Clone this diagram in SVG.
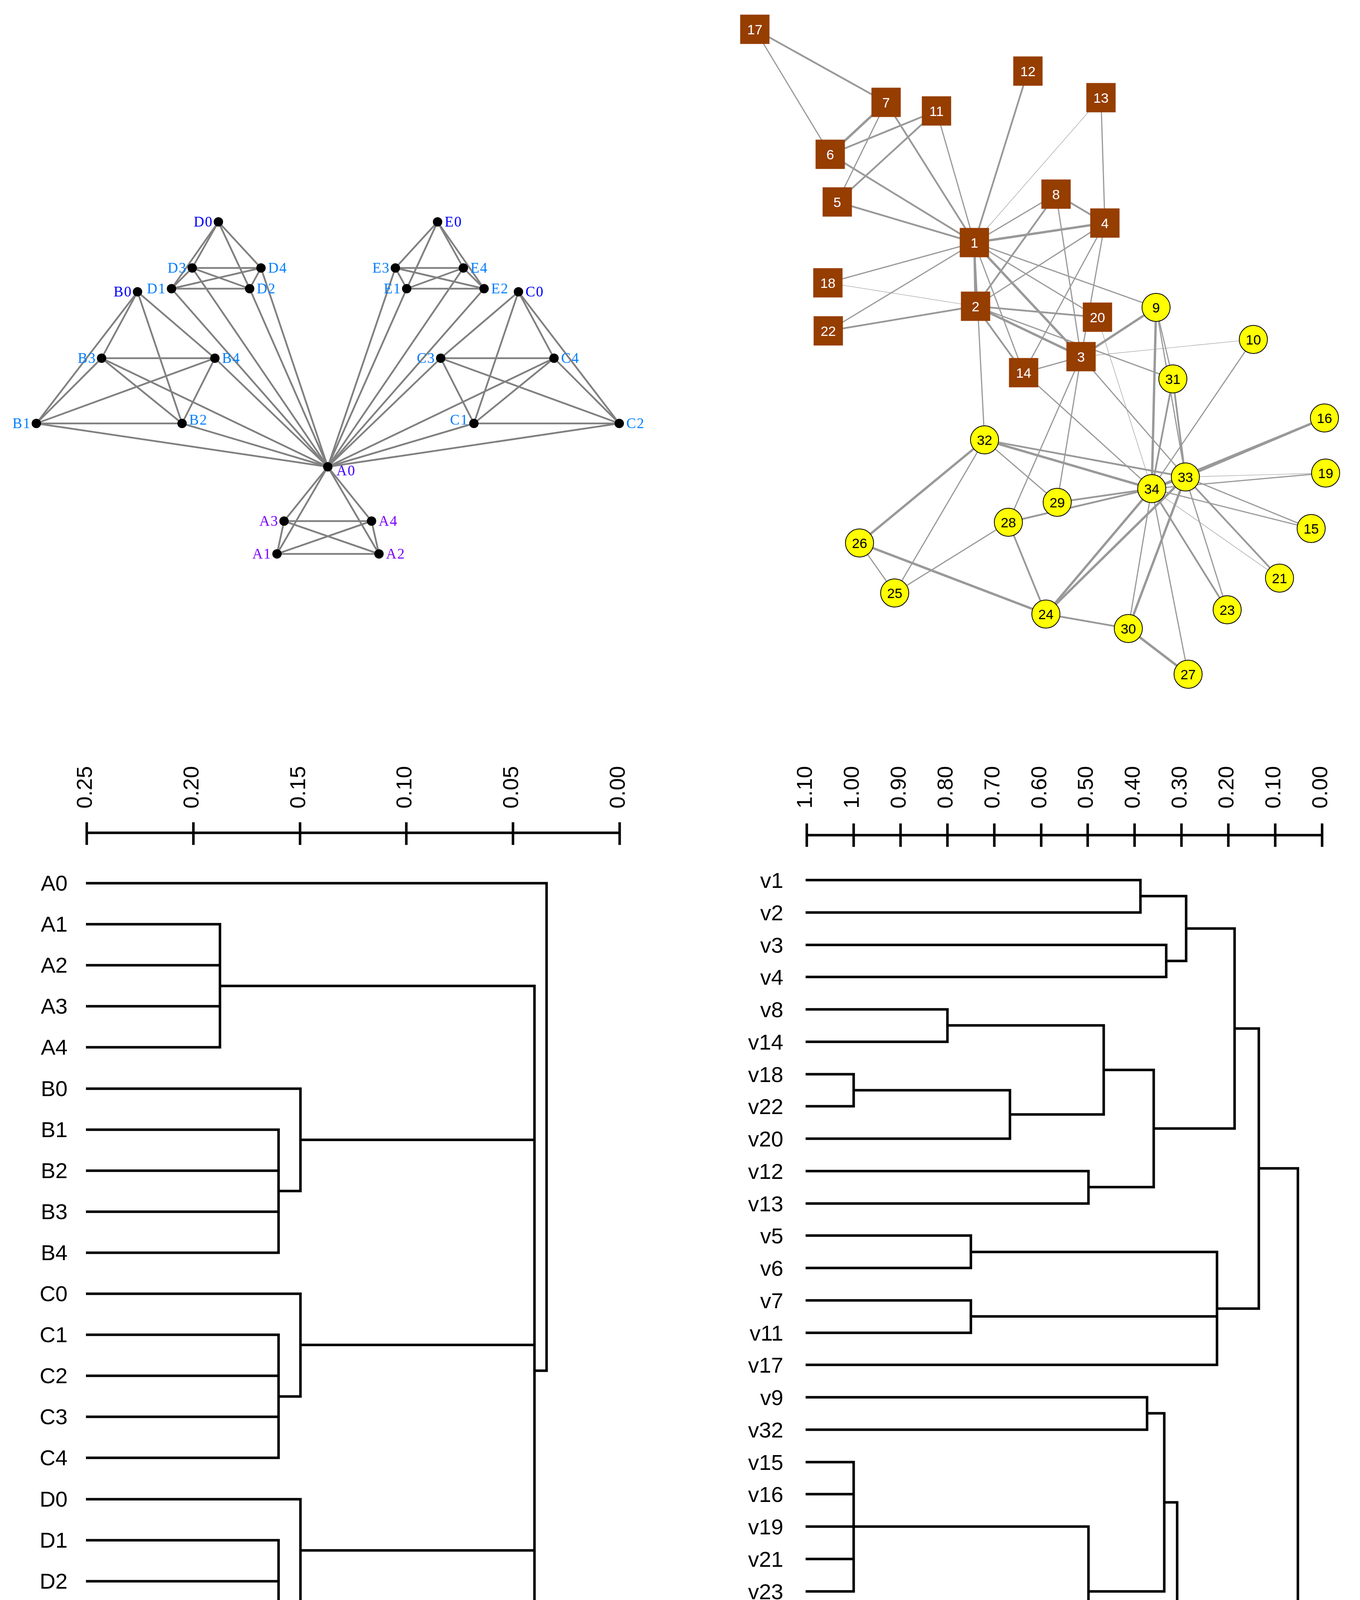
<svg xmlns="http://www.w3.org/2000/svg" width="3481" height="5308" viewBox="0 0 3481 5308">
<style>
.ea{stroke:#808080;stroke-width:4.5;fill:none}
.dot{fill:#000}
.la{font-family:"Liberation Serif",serif;font-size:37px;letter-spacing:2px}
.c0{fill:#0000FF}.c1{fill:#0080FF}.cA{fill:#8000FF}.cA0{fill:#4400FF}
.end{text-anchor:end}
.eb{stroke:#999999;fill:none}
.t{stroke-width:1.2}.m{stroke-width:3}.k{stroke-width:4.5}.h{stroke-width:6}
.sq{fill:#963D00}
.ci{fill:#FFFF00;stroke:#000;stroke-width:2}
.kl{font-family:"Liberation Sans",Arial,sans-serif;font-size:35px;text-anchor:middle}
.wt{fill:#fff}.bk{fill:#000}
.dl{stroke:#000;stroke-width:6.5;fill:none;stroke-linejoin:miter}
.tx{font-family:"Liberation Sans",Arial,sans-serif;font-size:56px;fill:#000}
.cap{font-family:"Liberation Serif","Times New Roman",serif;font-size:96px;text-anchor:middle;fill:#000}
</style>
<rect width="3481" height="5308" fill="#fff"/>

<!-- Graph (a) connectors -->
<g id="edges-a" class="ea">
<line x1="839" y1="1195" x2="709" y2="1418"/><line x1="839" y1="1195" x2="970" y2="1418"/><line x1="839" y1="1195" x2="727" y2="1334"/><line x1="839" y1="1195" x2="951" y2="1334"/>
<line x1="709" y1="1418" x2="970" y2="1418"/><line x1="709" y1="1418" x2="727" y2="1334"/><line x1="709" y1="1418" x2="951" y2="1334"/><line x1="970" y1="1418" x2="727" y2="1334"/><line x1="970" y1="1418" x2="951" y2="1334"/><line x1="727" y1="1334" x2="951" y2="1334"/>
<line x1="352" y1="747" x2="93" y2="1084"/><line x1="352" y1="747" x2="466" y2="1084"/><line x1="352" y1="747" x2="260" y2="917"/><line x1="352" y1="747" x2="550" y2="917"/>
<line x1="93" y1="1084" x2="466" y2="1084"/><line x1="93" y1="1084" x2="260" y2="917"/><line x1="93" y1="1084" x2="550" y2="917"/><line x1="466" y1="1084" x2="260" y2="917"/><line x1="466" y1="1084" x2="550" y2="917"/><line x1="260" y1="917" x2="550" y2="917"/>
<line x1="1327" y1="747" x2="1213" y2="1084"/><line x1="1327" y1="747" x2="1585" y2="1084"/><line x1="1327" y1="747" x2="1128" y2="917"/><line x1="1327" y1="747" x2="1418" y2="917"/>
<line x1="1213" y1="1084" x2="1585" y2="1084"/><line x1="1213" y1="1084" x2="1128" y2="917"/><line x1="1213" y1="1084" x2="1418" y2="917"/><line x1="1585" y1="1084" x2="1128" y2="917"/><line x1="1585" y1="1084" x2="1418" y2="917"/><line x1="1128" y1="917" x2="1418" y2="917"/>
<line x1="559" y1="568" x2="439" y2="739"/><line x1="559" y1="568" x2="639" y2="739"/><line x1="559" y1="568" x2="492" y2="686"/><line x1="559" y1="568" x2="668" y2="686"/>
<line x1="439" y1="739" x2="639" y2="739"/><line x1="439" y1="739" x2="492" y2="686"/><line x1="439" y1="739" x2="668" y2="686"/><line x1="639" y1="739" x2="492" y2="686"/><line x1="639" y1="739" x2="668" y2="686"/><line x1="492" y1="686" x2="668" y2="686"/>
<line x1="1120" y1="568" x2="1041" y2="739"/><line x1="1120" y1="568" x2="1239" y2="739"/><line x1="1120" y1="568" x2="1012" y2="686"/><line x1="1120" y1="568" x2="1186" y2="686"/>
<line x1="1041" y1="739" x2="1239" y2="739"/><line x1="1041" y1="739" x2="1012" y2="686"/><line x1="1041" y1="739" x2="1186" y2="686"/><line x1="1239" y1="739" x2="1012" y2="686"/><line x1="1239" y1="739" x2="1186" y2="686"/><line x1="1012" y1="686" x2="1186" y2="686"/>
<line x1="839" y1="1195" x2="93" y2="1084"/><line x1="839" y1="1195" x2="466" y2="1084"/><line x1="839" y1="1195" x2="260" y2="917"/><line x1="839" y1="1195" x2="550" y2="917"/>
<line x1="839" y1="1195" x2="1213" y2="1084"/><line x1="839" y1="1195" x2="1585" y2="1084"/><line x1="839" y1="1195" x2="1128" y2="917"/><line x1="839" y1="1195" x2="1418" y2="917"/>
<line x1="839" y1="1195" x2="439" y2="739"/><line x1="839" y1="1195" x2="639" y2="739"/><line x1="839" y1="1195" x2="492" y2="686"/><line x1="839" y1="1195" x2="668" y2="686"/>
<line x1="839" y1="1195" x2="1041" y2="739"/><line x1="839" y1="1195" x2="1239" y2="739"/><line x1="839" y1="1195" x2="1012" y2="686"/><line x1="839" y1="1195" x2="1186" y2="686"/>
</g>

<!-- Graph (a) nodes -->
<g id="node-A0"><circle class="dot" cx="839" cy="1195" r="12"/><text class="la cA0" x="861" y="1217">A0</text></g>
<g id="node-A1"><circle class="dot" cx="709" cy="1418" r="12"/><text class="la cA end" x="695" y="1430">A1</text></g>
<g id="node-A2"><circle class="dot" cx="970" cy="1418" r="12"/><text class="la cA" x="988" y="1430">A2</text></g>
<g id="node-A3"><circle class="dot" cx="727" cy="1334" r="12"/><text class="la cA end" x="713" y="1346">A3</text></g>
<g id="node-A4"><circle class="dot" cx="951" cy="1334" r="12"/><text class="la cA" x="969" y="1346">A4</text></g>
<g id="node-B0"><circle class="dot" cx="352" cy="747" r="12"/><text class="la c0 end" x="338" y="759">B0</text></g>
<g id="node-B1"><circle class="dot" cx="93" cy="1084" r="12"/><text class="la c1 end" x="79" y="1096">B1</text></g>
<g id="node-B2"><circle class="dot" cx="466" cy="1084" r="12"/><text class="la c1" x="484" y="1087">B2</text></g>
<g id="node-B3"><circle class="dot" cx="260" cy="917" r="12"/><text class="la c1 end" x="246" y="929">B3</text></g>
<g id="node-B4"><circle class="dot" cx="550" cy="917" r="12"/><text class="la c1" x="568" y="929">B4</text></g>
<g id="node-C0"><circle class="dot" cx="1327" cy="747" r="12"/><text class="la c0" x="1345" y="759">C0</text></g>
<g id="node-C1"><circle class="dot" cx="1213" cy="1084" r="12"/><text class="la c1 end" x="1199" y="1087">C1</text></g>
<g id="node-C2"><circle class="dot" cx="1585" cy="1084" r="12"/><text class="la c1" x="1603" y="1096">C2</text></g>
<g id="node-C3"><circle class="dot" cx="1128" cy="917" r="12"/><text class="la c1 end" x="1114" y="929">C3</text></g>
<g id="node-C4"><circle class="dot" cx="1418" cy="917" r="12"/><text class="la c1" x="1436" y="929">C4</text></g>
<g id="node-D0"><circle class="dot" cx="559" cy="568" r="12"/><text class="la c0 end" x="545" y="580">D0</text></g>
<g id="node-D1"><circle class="dot" cx="439" cy="739" r="12"/><text class="la c1 end" x="425" y="751">D1</text></g>
<g id="node-D2"><circle class="dot" cx="639" cy="739" r="12"/><text class="la c1" x="657" y="751">D2</text></g>
<g id="node-D3"><circle class="dot" cx="492" cy="686" r="12"/><text class="la c1 end" x="478" y="698">D3</text></g>
<g id="node-D4"><circle class="dot" cx="668" cy="686" r="12"/><text class="la c1" x="686" y="698">D4</text></g>
<g id="node-E0"><circle class="dot" cx="1120" cy="568" r="12"/><text class="la c0" x="1138" y="580">E0</text></g>
<g id="node-E1"><circle class="dot" cx="1041" cy="739" r="12"/><text class="la c1 end" x="1027" y="751">E1</text></g>
<g id="node-E2"><circle class="dot" cx="1239" cy="739" r="12"/><text class="la c1" x="1257" y="751">E2</text></g>
<g id="node-E3"><circle class="dot" cx="1012" cy="686" r="12"/><text class="la c1 end" x="998" y="698">E3</text></g>
<g id="node-E4"><circle class="dot" cx="1186" cy="686" r="12"/><text class="la c1" x="1204" y="698">E4</text></g>

<!-- Graph (b) connectors -->
<g id="edges-b" class="eb">
<line class="h" x1="2494" y1="621" x2="2497" y2="784"/>
<line class="h" x1="2494" y1="621" x2="2767" y2="913"/>
<line class="h" x1="2494" y1="621" x2="2828" y2="571"/>
<line class="k" x1="2494" y1="621" x2="2143" y2="517"/>
<line class="k" x1="2494" y1="621" x2="2125" y2="395"/>
<line class="k" x1="2494" y1="621" x2="2268" y2="262"/>
<line class="m" x1="2494" y1="621" x2="2703" y2="497"/>
<line class="m" x1="2494" y1="621" x2="2959" y2="787"/>
<line class="m" x1="2494" y1="621" x2="2397" y2="284"/>
<line class="k" x1="2494" y1="621" x2="2631" y2="182"/>
<line class="t" x1="2494" y1="621" x2="2818" y2="250"/>
<line class="m" x1="2494" y1="621" x2="2620" y2="954"/>
<line class="m" x1="2494" y1="621" x2="2119" y2="724"/>
<line class="m" x1="2494" y1="621" x2="2809" y2="812"/>
<line class="m" x1="2494" y1="621" x2="2120" y2="847"/>
<line class="m" x1="2494" y1="621" x2="2520" y2="1126"/>
<line class="h" x1="2497" y1="784" x2="2767" y2="913"/>
<line class="m" x1="2497" y1="784" x2="2828" y2="571"/>
<line class="k" x1="2497" y1="784" x2="2703" y2="497"/>
<line class="k" x1="2497" y1="784" x2="2620" y2="954"/>
<line class="t" x1="2497" y1="784" x2="2119" y2="724"/>
<line class="k" x1="2497" y1="784" x2="2809" y2="812"/>
<line class="k" x1="2497" y1="784" x2="2120" y2="847"/>
<line class="m" x1="2497" y1="784" x2="3002" y2="970"/>
<line class="m" x1="2767" y1="913" x2="2828" y2="571"/>
<line class="m" x1="2767" y1="913" x2="2703" y2="497"/>
<line class="h" x1="2767" y1="913" x2="2959" y2="787"/>
<line class="t" x1="2767" y1="913" x2="3208" y2="869"/>
<line class="m" x1="2767" y1="913" x2="2620" y2="954"/>
<line class="m" x1="2767" y1="913" x2="2581" y2="1337"/>
<line class="m" x1="2767" y1="913" x2="2706" y2="1286"/>
<line class="m" x1="2767" y1="913" x2="3034" y2="1221"/>
<line class="k" x1="2828" y1="571" x2="2703" y2="497"/>
<line class="m" x1="2828" y1="571" x2="2818" y2="250"/>
<line class="m" x1="2828" y1="571" x2="2620" y2="954"/>
<line class="m" x1="2143" y1="517" x2="2268" y2="262"/>
<line class="k" x1="2143" y1="517" x2="2397" y2="284"/>
<line class="h" x1="2125" y1="395" x2="2268" y2="262"/>
<line class="k" x1="2125" y1="395" x2="2397" y2="284"/>
<line class="m" x1="2125" y1="395" x2="1932" y2="75"/>
<line class="k" x1="2268" y1="262" x2="1932" y2="75"/>
<line class="m" x1="2959" y1="787" x2="3002" y2="970"/>
<line class="m" x1="2959" y1="787" x2="3034" y2="1221"/>
<line class="h" x1="2959" y1="787" x2="2948" y2="1251"/>
<line class="m" x1="3208" y1="869" x2="2948" y2="1251"/>
<line class="m" x1="2620" y1="954" x2="2948" y2="1251"/>
<line class="m" x1="3356" y1="1353" x2="3034" y2="1221"/>
<line class="m" x1="3356" y1="1353" x2="2948" y2="1251"/>
<line class="h" x1="3390" y1="1070" x2="3034" y2="1221"/>
<line class="k" x1="3390" y1="1070" x2="2948" y2="1251"/>
<line class="t" x1="3393" y1="1211" x2="3034" y2="1221"/>
<line class="m" x1="3393" y1="1211" x2="2948" y2="1251"/>
<line class="t" x1="2809" y1="812" x2="2948" y2="1251"/>
<line class="k" x1="3275" y1="1480" x2="3034" y2="1221"/>
<line class="t" x1="3275" y1="1480" x2="2948" y2="1251"/>
<line class="m" x1="3141" y1="1561" x2="3034" y2="1221"/>
<line class="k" x1="3141" y1="1561" x2="2948" y2="1251"/>
<line class="h" x1="2677" y1="1572" x2="2200" y2="1390"/>
<line class="k" x1="2677" y1="1572" x2="2581" y2="1337"/>
<line class="k" x1="2677" y1="1572" x2="2888" y2="1609"/>
<line class="h" x1="2677" y1="1572" x2="3034" y2="1221"/>
<line class="h" x1="2677" y1="1572" x2="2948" y2="1251"/>
<line class="m" x1="2290" y1="1518" x2="2200" y2="1390"/>
<line class="m" x1="2290" y1="1518" x2="2581" y2="1337"/>
<line class="m" x1="2290" y1="1518" x2="2520" y2="1126"/>
<line class="h" x1="2200" y1="1390" x2="2520" y2="1126"/>
<line class="h" x1="3041" y1="1726" x2="2888" y2="1609"/>
<line class="m" x1="3041" y1="1726" x2="2948" y2="1251"/>
<line class="k" x1="2581" y1="1337" x2="2948" y2="1251"/>
<line class="m" x1="2706" y1="1286" x2="2520" y2="1126"/>
<line class="k" x1="2706" y1="1286" x2="2948" y2="1251"/>
<line class="h" x1="2888" y1="1609" x2="3034" y2="1221"/>
<line class="m" x1="2888" y1="1609" x2="2948" y2="1251"/>
<line class="k" x1="3002" y1="970" x2="3034" y2="1221"/>
<line class="k" x1="3002" y1="970" x2="2948" y2="1251"/>
<line class="k" x1="2520" y1="1126" x2="3034" y2="1221"/>
<line class="h" x1="2520" y1="1126" x2="2948" y2="1251"/>
<line class="h" x1="3034" y1="1221" x2="2948" y2="1251"/>
</g>

<!-- Graph (b) nodes -->
<g id="k1"><rect class="sq" x="2456.5" y="583.5" width="75" height="75"/><text class="kl wt" x="2494" y="634">1</text></g>
<g id="k2"><rect class="sq" x="2459.5" y="746.5" width="75" height="75"/><text class="kl wt" x="2497" y="797">2</text></g>
<g id="k3"><rect class="sq" x="2729.5" y="875.5" width="75" height="75"/><text class="kl wt" x="2767" y="926">3</text></g>
<g id="k4"><rect class="sq" x="2790.5" y="533.5" width="75" height="75"/><text class="kl wt" x="2828" y="584">4</text></g>
<g id="k5"><rect class="sq" x="2105.5" y="479.5" width="75" height="75"/><text class="kl wt" x="2143" y="530">5</text></g>
<g id="k6"><rect class="sq" x="2087.5" y="357.5" width="75" height="75"/><text class="kl wt" x="2125" y="408">6</text></g>
<g id="k7"><rect class="sq" x="2230.5" y="224.5" width="75" height="75"/><text class="kl wt" x="2268" y="275">7</text></g>
<g id="k8"><rect class="sq" x="2665.5" y="459.5" width="75" height="75"/><text class="kl wt" x="2703" y="510">8</text></g>
<g id="k11"><rect class="sq" x="2359.5" y="246.5" width="75" height="75"/><text class="kl wt" x="2397" y="297">11</text></g>
<g id="k12"><rect class="sq" x="2593.5" y="144.5" width="75" height="75"/><text class="kl wt" x="2631" y="195">12</text></g>
<g id="k13"><rect class="sq" x="2780.5" y="212.5" width="75" height="75"/><text class="kl wt" x="2818" y="263">13</text></g>
<g id="k14"><rect class="sq" x="2582.5" y="916.5" width="75" height="75"/><text class="kl wt" x="2620" y="967">14</text></g>
<g id="k17"><rect class="sq" x="1894.5" y="37.5" width="75" height="75"/><text class="kl wt" x="1932" y="88">17</text></g>
<g id="k18"><rect class="sq" x="2081.5" y="686.5" width="75" height="75"/><text class="kl wt" x="2119" y="737">18</text></g>
<g id="k20"><rect class="sq" x="2771.5" y="774.5" width="75" height="75"/><text class="kl wt" x="2809" y="825">20</text></g>
<g id="k22"><rect class="sq" x="2082.5" y="809.5" width="75" height="75"/><text class="kl wt" x="2120" y="860">22</text></g>
<g id="k9"><circle class="ci" cx="2959" cy="787" r="36"/><text class="kl bk" x="2959" y="800">9</text></g>
<g id="k10"><circle class="ci" cx="3208" cy="869" r="36"/><text class="kl bk" x="3208" y="882">10</text></g>
<g id="k15"><circle class="ci" cx="3356" cy="1353" r="36"/><text class="kl bk" x="3356" y="1366">15</text></g>
<g id="k16"><circle class="ci" cx="3390" cy="1070" r="36"/><text class="kl bk" x="3390" y="1083">16</text></g>
<g id="k19"><circle class="ci" cx="3393" cy="1211" r="36"/><text class="kl bk" x="3393" y="1224">19</text></g>
<g id="k21"><circle class="ci" cx="3275" cy="1480" r="36"/><text class="kl bk" x="3275" y="1493">21</text></g>
<g id="k23"><circle class="ci" cx="3141" cy="1561" r="36"/><text class="kl bk" x="3141" y="1574">23</text></g>
<g id="k24"><circle class="ci" cx="2677" cy="1572" r="36"/><text class="kl bk" x="2677" y="1585">24</text></g>
<g id="k25"><circle class="ci" cx="2290" cy="1518" r="36"/><text class="kl bk" x="2290" y="1531">25</text></g>
<g id="k26"><circle class="ci" cx="2200" cy="1390" r="36"/><text class="kl bk" x="2200" y="1403">26</text></g>
<g id="k27"><circle class="ci" cx="3041" cy="1726" r="36"/><text class="kl bk" x="3041" y="1739">27</text></g>
<g id="k28"><circle class="ci" cx="2581" cy="1337" r="36"/><text class="kl bk" x="2581" y="1350">28</text></g>
<g id="k29"><circle class="ci" cx="2706" cy="1286" r="36"/><text class="kl bk" x="2706" y="1299">29</text></g>
<g id="k30"><circle class="ci" cx="2888" cy="1609" r="36"/><text class="kl bk" x="2888" y="1622">30</text></g>
<g id="k31"><circle class="ci" cx="3002" cy="970" r="36"/><text class="kl bk" x="3002" y="983">31</text></g>
<g id="k32"><circle class="ci" cx="2520" cy="1126" r="36"/><text class="kl bk" x="2520" y="1139">32</text></g>
<g id="k33"><circle class="ci" cx="3034" cy="1221" r="36"/><text class="kl bk" x="3034" y="1234">33</text></g>
<g id="k34"><circle class="ci" cx="2948" cy="1251" r="36"/><text class="kl bk" x="2948" y="1264">34</text></g>

<!-- Dendrogram (a) -->
<g id="axis-a">
<path class="dl" d="M222 2132 H1586 M222 2105 V2163 M495 2105 V2163 M768 2105 V2163 M1040 2105 V2163 M1313 2105 V2163 M1586 2105 V2163"/>
<text class="tx" transform="translate(235,2070) rotate(-90)">0.25</text>
<text class="tx" transform="translate(508,2070) rotate(-90)">0.20</text>
<text class="tx" transform="translate(781,2070) rotate(-90)">0.15</text>
<text class="tx" transform="translate(1053,2070) rotate(-90)">0.10</text>
<text class="tx" transform="translate(1326,2070) rotate(-90)">0.05</text>
<text class="tx" transform="translate(1599,2070) rotate(-90)">0.00</text>
</g>
<g id="tree-a" class="dl">
<path d="M220 2366 H563 V2681 H220 M220 2471 H563 M220 2576 H563"/>
<path d="M220 2892 H713 V3207 H220 M220 2997 H713 M220 3102 H713"/>
<path d="M220 2787 H769 V3049 H713"/>
<path d="M220 3417 H713 V3732 H220 M220 3522 H713 M220 3627 H713"/>
<path d="M220 3312 H769 V3575 H713"/>
<path d="M220 3943 H713 V4258 H220 M220 4048 H713 M220 4153 H713"/>
<path d="M220 3838 H769 V4100 H713"/>
<path d="M220 4468 H713 V4783 H220 M220 4573 H713 M220 4678 H713"/>
<path d="M220 4363 H769 V4626 H713"/>
<path d="M563 2524 H1368 V4494 H769 M769 2918 H1368 M769 3443 H1368 M769 3969 H1368"/>
<path d="M220 2261 H1399 V3509 H1368"/>
</g>
<g id="labels-a" class="tx end">
<text x="173" y="2280">A0</text><text x="173" y="2385">A1</text><text x="173" y="2490">A2</text><text x="173" y="2595">A3</text><text x="173" y="2700">A4</text>
<text x="173" y="2806">B0</text><text x="173" y="2911">B1</text><text x="173" y="3016">B2</text><text x="173" y="3121">B3</text><text x="173" y="3226">B4</text>
<text x="173" y="3331">C0</text><text x="173" y="3436">C1</text><text x="173" y="3541">C2</text><text x="173" y="3646">C3</text><text x="173" y="3751">C4</text>
<text x="173" y="3857">D0</text><text x="173" y="3962">D1</text><text x="173" y="4067">D2</text><text x="173" y="4172">D3</text><text x="173" y="4277">D4</text>
<text x="173" y="4382">E0</text><text x="173" y="4487">E1</text><text x="173" y="4592">E2</text><text x="173" y="4697">E3</text><text x="173" y="4802">E4</text>
</g>

<!-- Dendrogram (b) -->
<g id="axis-b">
<path class="dl" d="M2065 2138 H3384 M2065 2108 V2168 M2185 2108 V2168 M2305 2108 V2168 M2425 2108 V2168 M2545 2108 V2168 M2665 2108 V2168 M2784 2108 V2168 M2904 2108 V2168 M3024 2108 V2168 M3144 2108 V2168 M3264 2108 V2168 M3384 2108 V2168"/>
<text class="tx" transform="translate(2078,2070) rotate(-90)">1.10</text>
<text class="tx" transform="translate(2198,2070) rotate(-90)">1.00</text>
<text class="tx" transform="translate(2318,2070) rotate(-90)">0.90</text>
<text class="tx" transform="translate(2438,2070) rotate(-90)">0.80</text>
<text class="tx" transform="translate(2558,2070) rotate(-90)">0.70</text>
<text class="tx" transform="translate(2678,2070) rotate(-90)">0.60</text>
<text class="tx" transform="translate(2797,2070) rotate(-90)">0.50</text>
<text class="tx" transform="translate(2917,2070) rotate(-90)">0.40</text>
<text class="tx" transform="translate(3037,2070) rotate(-90)">0.30</text>
<text class="tx" transform="translate(3157,2070) rotate(-90)">0.20</text>
<text class="tx" transform="translate(3277,2070) rotate(-90)">0.10</text>
<text class="tx" transform="translate(3397,2070) rotate(-90)">0.00</text>
</g>
<g id="tree-b" class="dl">
<path d="M2062 2253 H2919 V2336 H2062"/>
<path d="M2062 2419 H2985 V2501 H2062"/>
<path d="M2919 2294 H3036 V2460 H2985"/>
<path d="M2062 2584 H2425 V2667 H2062"/>
<path d="M2062 2750 H2185 V2832 H2062"/>
<path d="M2185 2791 H2585 V2915 H2062"/>
<path d="M2425 2625 H2825 V2853 H2585"/>
<path d="M2062 2998 H2786 V3081 H2062"/>
<path d="M2825 2739 H2953 V3039 H2786"/>
<path d="M3036 2377 H3160 V2889 H2953"/>
<path d="M2062 3163 H2485 V3246 H2062"/>
<path d="M2062 3329 H2485 V3412 H2062"/>
<path d="M2485 3205 H3115 V3494 H2062 M2485 3370 H3115"/>
<path d="M3160 2633 H3222 V3350 H3115"/>
<path d="M3222 2991 H3322 V4604 H3289"/>
<path d="M2062 3577 H2936 V3660 H2062"/>
<path d="M2062 3743 H2185 V4074 H2062 M2062 3825 H2185 M2062 3991 H2185"/>
<path d="M2062 3908 H2786 V4239 H2062 M2062 4157 H2786"/>
<path d="M2936 3618 H2980 V4074 H2786"/>
<path d="M2062 4322 H2906 V4405 H2062"/>
<path d="M2980 3846 H3013 V4363 H2906"/>
<path d="M2062 4488 H2585 V4570 H2062"/>
<path d="M2585 4529 H2845 V4653 H2062"/>
<path d="M3013 4105 H3098 V4591 H2845"/>
<path d="M2062 4736 H3145 V4819 H2062"/>
<path d="M2062 4901 H2753 V4984 H2062"/>
<path d="M3145 4777 H3251 V4943 H2753"/>
<path d="M3098 4348 H3289 V4860 H3251"/>
</g>
<g id="labels-b" class="tx end">
<text x="2005" y="2273">v1</text><text x="2005" y="2356">v2</text><text x="2005" y="2439">v3</text><text x="2005" y="2521">v4</text>
<text x="2005" y="2604">v8</text><text x="2005" y="2687">v14</text><text x="2005" y="2770">v18</text><text x="2005" y="2852">v22</text>
<text x="2005" y="2935">v20</text><text x="2005" y="3018">v12</text><text x="2005" y="3101">v13</text><text x="2005" y="3183">v5</text>
<text x="2005" y="3266">v6</text><text x="2005" y="3349">v7</text><text x="2005" y="3432">v11</text><text x="2005" y="3514">v17</text>
<text x="2005" y="3597">v9</text><text x="2005" y="3680">v32</text><text x="2005" y="3763">v15</text><text x="2005" y="3845">v16</text>
<text x="2005" y="3928">v19</text><text x="2005" y="4011">v21</text><text x="2005" y="4094">v23</text><text x="2005" y="4177">v30</text>
<text x="2005" y="4259">v31</text><text x="2005" y="4342">v24</text><text x="2005" y="4425">v27</text><text x="2005" y="4508">v10</text>
<text x="2005" y="4590">v29</text><text x="2005" y="4673">v28</text><text x="2005" y="4756">v25</text><text x="2005" y="4839">v26</text>
<text x="2005" y="4921">v33</text><text x="2005" y="5004">v34</text>
</g>

<g id="captions">
<text class="cap" x="848" y="5280">(<tspan font-weight="bold">a</tspan>)</text>
<text class="cap" x="2652" y="5280">(<tspan font-weight="bold">b</tspan>)</text>
</g>
</svg>
